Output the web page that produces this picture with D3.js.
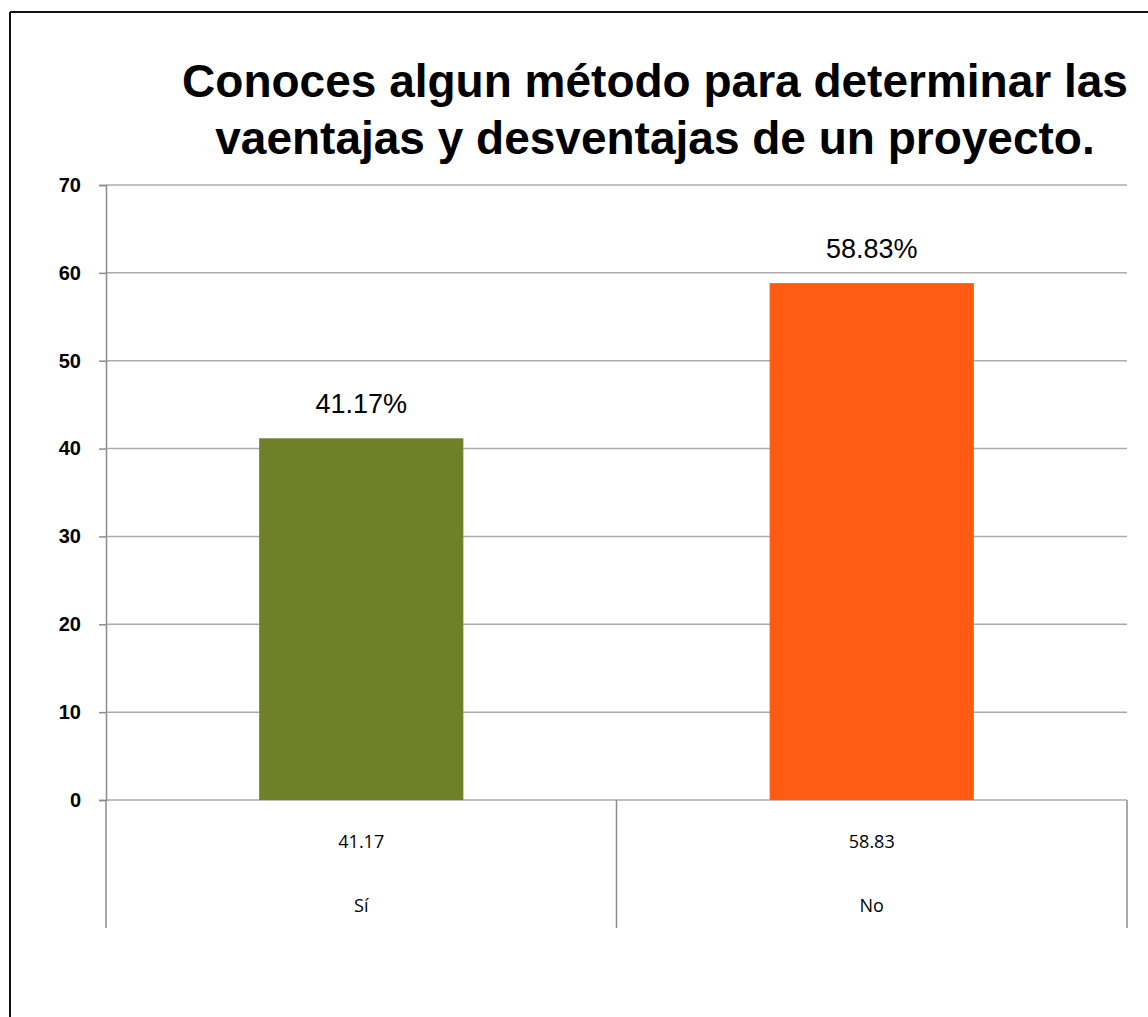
<!DOCTYPE html>
<html>
<head>
<meta charset="utf-8">
<script src="https://cdn.jsdelivr.net/npm/d3@7"></script>
<style>
  html, body { margin: 0; padding: 0; background: #fff; }
</style>
</head>
<body>
<div id="chart"></div>
<script>
// chart data
const categories = ["Sí", "No"];
const values = [41.17, 58.83];
const valueLabels = ["41.17%", "58.83%"];
const tableLabels = ["41.17", "58.83"];
const barColors = ["#6e8029", "#ff5b12"];
const yTicks = [0, 10, 20, 30, 40, 50, 60, 70];
const titleLines = [
  "Conoces algun método para determinar las",
  "vaentajas y desventajas de un proyecto."
];

const width = 1148;
const height = 1017;
const margin = { top: 185, right: 21, bottom: 217, left: 106 };
const plotW = width - margin.left - margin.right;
const plotH = height - margin.top - margin.bottom;

const svg = d3.select("#chart")
  .append("svg")
    .attr("width", width)
    .attr("height", height)
    .attr("viewBox", `0 0 ${width} ${height}`);

// outer frame (top and left edges visible)
svg.append("line")
  .attr("x1", 10).attr("x2", width)
  .attr("y1", 12).attr("y2", 12)
  .attr("stroke", "#111").attr("stroke-width", 2);
svg.append("line")
  .attr("x1", 10).attr("x2", 10)
  .attr("y1", 12).attr("y2", height)
  .attr("stroke", "#111").attr("stroke-width", 2);

// title
svg.append("g")
  .selectAll("text")
  .data(titleLines)
  .join("text")
    .attr("x", 655)
    .attr("y", (d, i) => 97 + i * 57)
    .attr("text-anchor", "middle")
    .style("font-family", "'Liberation Sans', Arial, sans-serif")
    .style("font-weight", "bold")
    .style("font-size", "46px")
    .style("fill", "#000")
    .text(d => d);

const g = svg.append("g")
  .attr("transform", `translate(${margin.left},${margin.top})`);

const x = d3.scaleBand()
  .domain(categories)
  .range([0, plotW])
  .paddingInner(0.6)
  .paddingOuter(0.3);

const y = d3.scaleLinear()
  .domain([0, 70])
  .range([plotH, 0]);

// gridlines
g.append("g")
  .selectAll("line")
  .data(yTicks)
  .join("line")
    .attr("x1", 0).attr("x2", plotW)
    .attr("y1", d => y(d)).attr("y2", d => y(d))
    .attr("stroke", "#ababab")
    .attr("stroke-width", 1.5);

// y axis
const yAxis = g.append("g")
  .call(d3.axisLeft(y).tickValues(yTicks).tickSize(7).tickPadding(18));
yAxis.select(".domain").attr("stroke", "#8c8c8c").attr("stroke-width", 1.5);
yAxis.selectAll(".tick line").attr("stroke", "#8c8c8c").attr("stroke-width", 1.5);
yAxis.selectAll(".tick text")
  .style("font-family", "'Liberation Sans', Arial, sans-serif")
  .style("font-weight", "bold")
  .style("font-size", "20px")
  .style("fill", "#000");

// bars
g.append("g")
  .selectAll("rect")
  .data(values)
  .join("rect")
    .attr("x", (d, i) => x(categories[i]))
    .attr("y", d => y(d))
    .attr("width", x.bandwidth())
    .attr("height", d => plotH - y(d))
    .attr("fill", (d, i) => barColors[i]);

// value labels
g.append("g")
  .selectAll("text")
  .data(values)
  .join("text")
    .attr("x", (d, i) => x(categories[i]) + x.bandwidth() / 2)
    .attr("y", d => y(d) - 25)
    .attr("text-anchor", "middle")
    .style("font-family", "'Liberation Sans', Arial, sans-serif")
    .style("font-size", "27px")
    .style("fill", "#000")
    .text((d, i) => valueLabels[i]);

// data table under the axis
const tableH = 128;
const step = plotW / categories.length;
g.append("g")
  .selectAll("line")
  .data(d3.range(categories.length + 1))
  .join("line")
    .attr("x1", d => d * step).attr("x2", d => d * step)
    .attr("y1", plotH).attr("y2", plotH + tableH)
    .attr("stroke", "#8c8c8c")
    .attr("stroke-width", 1.5);

const cells = g.append("g")
  .style("font-family", "'Open Sans', 'Liberation Sans', sans-serif")
  .style("font-size", "18px")
  .style("fill", "#000")
  .attr("text-anchor", "middle");

cells.selectAll("text.val")
  .data(tableLabels)
  .join("text")
    .attr("class", "val")
    .attr("x", (d, i) => x(categories[i]) + x.bandwidth() / 2)
    .attr("y", plotH + 48)
    .text(d => d);

cells.selectAll("text.cat")
  .data(categories)
  .join("text")
    .attr("class", "cat")
    .attr("x", d => x(d) + x.bandwidth() / 2)
    .attr("y", plotH + 112)
    .text(d => d);
</script>
</body>
</html>
